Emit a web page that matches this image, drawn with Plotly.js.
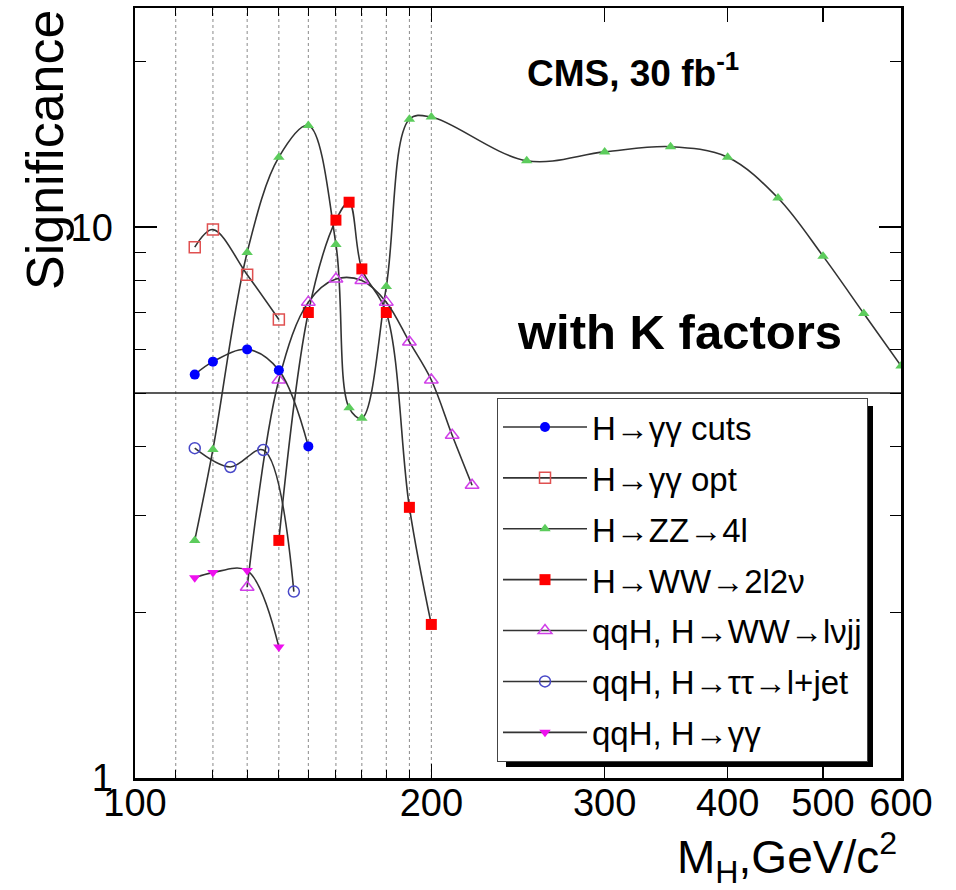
<!DOCTYPE html>
<html><head><meta charset="utf-8">
<script src="https://cdn.plot.ly/plotly-3.0.1.min.js"></script>
<style>body{margin:0;background:#fff}</style>
</head><body><div id="chart" style="width:956px;height:890px"></div>
<script>
// ---- data ----
const massGgCuts = [115, 120, 130, 140, 150];
const sigGgCuts  = [5.4, 5.7, 6.0, 5.5, 4.0];
const massGgOpt  = [115, 120, 130, 140];
const sigGgOpt   = [9.2, 9.9, 8.2, 6.8];
const massZZ = [115, 120, 130, 140, 150, 160, 165, 170, 180, 190, 200, 250, 300, 350, 400, 450, 500, 550, 600];
const sigZZ  = [2.7, 3.95, 9.0, 13.4, 15.3, 9.3, 4.7, 4.5, 7.8, 15.7, 15.85, 13.2, 13.7, 14.0, 13.4, 11.3, 8.86, 6.97, 5.6];
const massWW = [140, 150, 160, 165, 170, 180, 190, 200];
const sigWW  = [2.7, 7.0, 10.3, 11.1, 8.4, 7.0, 3.1, 1.9];
const massQqWW = [130, 140, 150, 160, 170, 180, 190, 200, 210, 220];
const sigQqWW  = [2.22, 5.28, 7.31, 8.05, 8.0, 7.31, 6.19, 5.28, 4.19, 3.40];
const massQqTau = [115, 125, 135, 145];
const sigQqTau  = [3.97, 3.67, 3.94, 2.18];
const massQqGg = [115, 120, 130, 140];
const sigQqGg  = [2.31, 2.36, 2.38, 1.73];

const seriesNames = ["H\u2192\u03b3\u03b3 cuts", "H\u2192\u03b3\u03b3 opt", "H\u2192ZZ\u21924l",
  "H\u2192WW\u21922l2\u03bd", "qqH, H\u2192WW\u2192l\u03bdjj", "qqH, H\u2192\u03c4\u03c4\u2192l+jet", "qqH, H\u2192\u03b3\u03b3"];

const gridMasses = [110, 120, 130, 140, 150, 160, 170, 180, 190, 200];
const xTickVals = [100, 200, 300, 400, 500, 600];
const xTickText = ["100", "200", "300", "400", "500", "600"];
const xMinorTicks = [110, 120, 130, 140, 150, 160, 170, 180, 190];
const yTickVals = [1, 10];
const yTickText = ["1", "10"];
const yMinorTicks = [2, 3, 4, 5, 6, 7, 8, 9, 20];
const discoveryLevel = 5;

// ---- drawing ----
const FONT = "Liberation Sans, Arial, Helvetica, sans-serif";
const W = 956, H = 890, ML = 135, MR = 55, MT = 8, MB = 112;
const PW = W - ML - MR, PH = H - MT - MB;
const px = x => (x - ML) / PW;
const py = y => (H - MB - y) / PH;

const lineStyle = {shape: 'spline', smoothing: 1, color: '#333333', width: 1.6};
const styles = [
  {symbol: 'circle', color: '#0000ff', size: 10},
  {symbol: 'square-open', color: '#e05050', size: 11, line: {width: 1.5, color: '#e05050'}},
  {symbol: 'triangle-up', color: '#5ccc5c', size: 10},
  {symbol: 'square', color: '#ff0000', size: 11},
  {symbol: 'triangle-up-open', color: '#d040e8', size: 12, line: {width: 1.5, color: '#d040e8'}},
  {symbol: 'circle-open', color: '#4848c8', size: 11, line: {width: 1.5, color: '#4848c8'}},
  {symbol: 'triangle-down', color: '#ee10ee', size: 10}
];
const xs = [massGgCuts, massGgOpt, massZZ, massWW, massQqWW, massQqTau, massQqGg];
const ys = [sigGgCuts, sigGgOpt, sigZZ, sigWW, sigQqWW, sigQqTau, sigQqGg];
const drawOrder = [2, 3, 4, 0, 1, 5, 6];
const traces = xs.map((x, i) => ({
  type: 'scatter', mode: 'lines+markers', x: x, y: ys[i], name: seriesNames[i],
  legendgroup: 'g' + i, legendrank: i + 1,
  line: lineStyle, marker: styles[i], cliponaxis: true
}));

const shapes = gridMasses.map(m => ({
  type: 'line', xref: 'x', yref: 'paper', x0: m, x1: m, y0: 0, y1: 1,
  line: {color: '#8a8a8a', width: 1, dash: 'dot'}, layer: 'below'
}));
shapes.push({type: 'line', xref: 'paper', yref: 'y', x0: 0, x1: 1, y0: discoveryLevel, y1: discoveryLevel,
  line: {color: '#222', width: 1.5}, layer: 'below'});
shapes.push({type: 'rect', xref: 'paper', yref: 'paper', x0: px(506), x1: px(873), y0: py(767), y1: py(406),
  fillcolor: '#000', line: {width: 0}, layer: 'above'});

const layout = {
  width: W, height: H, margin: {l: ML, r: MR, t: MT, b: MB},
  paper_bgcolor: '#fff', plot_bgcolor: '#fff',
  font: {family: FONT, color: '#000'},
  showlegend: true,
  legend: {x: px(497), y: py(398), xanchor: 'left', yanchor: 'top', bgcolor: '#fff',
    bordercolor: '#444', borderwidth: 1, font: {size: 33, family: FONT},
    itemwidth: 84, tracegroupgap: 5, traceorder: 'grouped'},
  xaxis: {type: 'log', range: [2, Math.log10(600)], tickmode: 'array', tickvals: xTickVals, ticktext: xTickText,
    ticks: 'inside', ticklen: 14, tickwidth: 1.5, tickcolor: '#000', mirror: 'ticks', showline: true,
    linecolor: '#000', linewidth: 2.5, showgrid: false, zeroline: false,
    tickfont: {size: 38, family: FONT}, ticklabelstandoff: -10,
    minor: {tickmode: 'array', tickvals: xMinorTicks, ticks: 'inside', ticklen: 8, tickwidth: 1, tickcolor: '#000', showgrid: false}},
  yaxis: {type: 'log', range: [0, Math.log10(25)], tickmode: 'array', tickvals: yTickVals, ticktext: yTickText,
    ticks: 'inside', ticklen: 22, tickwidth: 1.5, tickcolor: '#000', mirror: 'ticks', showline: true,
    linecolor: '#000', linewidth: 2.5, showgrid: false, zeroline: false,
    tickfont: {size: 38, family: FONT}, ticklabelstandoff: 12,
    minor: {tickmode: 'array', tickvals: yMinorTicks, ticks: 'inside', ticklen: 11, tickwidth: 1, tickcolor: '#000', showgrid: false}},
  shapes: shapes,
  annotations: [
    {text: 'Significance', xref: 'paper', yref: 'paper', x: px(45), y: py(8), xanchor: 'center', yanchor: 'top',
      textangle: -90, showarrow: false, font: {size: 52, family: FONT}},
    {text: 'M<sub>H</sub>,GeV/c<sup>2</sup>', xref: 'paper', yref: 'paper', x: px(899), y: py(857),
      xanchor: 'right', yanchor: 'middle', showarrow: false, font: {size: 46, family: FONT}},
    {text: '<b>CMS, 30 fb<sup>-1</sup></b>', xref: 'paper', yref: 'paper', x: px(525), y: py(70),
      xanchor: 'left', yanchor: 'middle', showarrow: false, font: {size: 37, family: FONT}},
    {text: '<b>with K factors</b>', xref: 'paper', yref: 'paper', x: px(515), y: py(332),
      xanchor: 'left', yanchor: 'middle', showarrow: false, font: {size: 49, family: FONT}}
  ]
};

Plotly.newPlot('chart', drawOrder.map(i => traces[i]), layout, {displayModeBar: false, staticPlot: true});
</script></body></html>
